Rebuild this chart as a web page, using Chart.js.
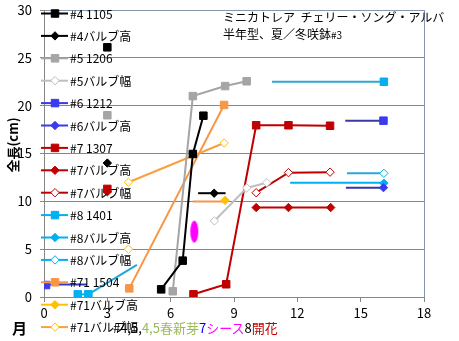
<!DOCTYPE html>
<html>
<head>
<meta charset="utf-8">
<script src="https://cdn.jsdelivr.net/npm/chart.js@4.4.1/dist/chart.umd.min.js"></script>
<style>
  body { margin: 0; background: #fff; }
  #wrap { position: relative; width: 459px; height: 341px; font-family: "Noto Sans CJK JP", sans-serif; color: #000; }
  .note { position: absolute; white-space: nowrap; }
</style>
</head>
<body>
<div id="wrap">
  <canvas id="chart" width="459" height="341"></canvas>
  <div class="note" style="left:223px; top:8px; font-size:12px; line-height:17px;">ミニカトレア&nbsp; チェリー・ソング・アルバ<br>半年型、夏／冬咲鉢<span style="font-size:10px">#3</span></div>
  <div class="note" style="left:12px; top:145px; font-size:13px; font-weight:bold; transform:translate(-50%,-50%) rotate(-90deg);">全長(cm)</div>
  <div class="note" style="left:12px; top:317px; font-size:15px; font-weight:bold;">月</div>
  <div class="note" style="left:113px; top:318px; font-size:13px;"><span>#4,5,</span><span style="color:#9BBB59">4,5春新芽</span><span style="color:#0000FF">7</span><span style="color:#FF00FF">シース</span><span>8</span><span style="color:#C00000">開花</span></div>
</div>
<script>
// months on x, length (cm) on y; null = gap in the line
const x4a = [3.0, 4.5, 5.55, 6.57, 7.05, 7.55];
const y4a = [26.1, null, 0.8, 3.8, 14.95, 18.95];
const x4b = [3.0, 5.5, 8.06];
const y4b = [14.0, null, 10.85];
const x5a = [3.0, 4.5, 6.1, 7.05, 8.58, 9.6];
const y5a = [19.0, null, 0.6, 21.0, 22.05, 22.55];
const x5w = [8.07, 9.6, 10.55];
const y5w = [7.95, 11.4, 11.95];
const x6a = [0.1, 8.0, 16.08];
const y6a = [1.25, null, 18.43];
const x6b = [16.08];
const y6b = [11.43];
const x7a = [3.0, 5.0, 7.08, 8.63, 10.05, 11.58, 13.55];
const y7a = [11.3, null, 0.28, 1.33, 17.95, 17.95, 17.9];
const x7b = [3.0, 6.0, 10.05, 11.58, 13.58];
const y7b = [11.0, null, 9.35, 9.35, 9.35];
const x7w = [10.05, 11.58, 13.55];
const y7w = [10.9, 13.0, 13.05];
const x8a = [1.6, 2.1, 9.0, 16.1];
const y8a = [0.28, 0.28, null, 22.5];
const x8b = [16.1];
const y8b = [11.9];
const x8w = [16.1];
const y8w = [12.93];
const x71a = [4.04, 8.53];
const y71a = [0.9, 20.07];
const x71b = [8.58];
const y71b = [10.1];
const x71w = [4.0, 4.0, 4.0, 8.53];
const y71w = [5.0, null, 12.0, 16.1];

// horizontal "period" bars without markers
const spanX0 = [7.3, 7.05, 2.1, 0.0, 10.8, 14.27, 14.35, 11.66, 14.3];
const spanY0 = [10.85, 9.98, 0.28, 1.3, 22.5, 18.43, 12.93, 11.95, 11.43];
const spanX1 = [8.6, 8.58, 4.4, 2.03, 16.1, 16.08, 16.1, 16.1, 16.08];
const spanY1 = [10.85, 9.98, 3.35, 1.3, 22.5, 18.43, 12.93, 11.95, 11.43];
const spanColors = ['#000000', '#F79646', '#1FA8DC', '#3535C8', '#2AA9D2', '#3B3BA6', '#2EA6D6', '#00B0F0', '#3535A8'];

// シース marker
const sheathX = [7.12];
const sheathY = [6.83];

const FONT = '"Noto Sans CJK JP", sans-serif';
const EDGE = '#8596AE';
const GRID = '#868686';

let row = 0;
function series(label, xs, ys, color, style, open, lineColor) {
  return {
    label,
    legendRow: row++,
    data: xs.map((x, i) => ({ x, y: ys[i] })),
    borderColor: lineColor || color,
    backgroundColor: color,
    borderWidth: 2,
    pointStyle: style,
    pointRadius: style === 'rect' ? 5.3 : 4.2,
    pointHoverRadius: style === 'rect' ? 5.3 : 4.2,
    pointBackgroundColor: open ? '#ffffff' : color,
    pointBorderColor: color,
    pointBorderWidth: 1,
    markerColor: color,
    open: !!open,
    spanGaps: false,
    tension: 0,
    order: 1,
  };
}

const datasets = [
  series('#4 1105', x4a, y4a, '#000000', 'rect'),
  series('#4バルブ高', x4b, y4b, '#000000', 'rectRot'),
  series('#5 1206', x5a, y5a, '#A5A5A5', 'rect'),
  series('#5バルブ幅', x5w, y5w, '#BFBFBF', 'rectRot', true),
  series('#6 1212', x6a, y6a, '#3A3AEE', 'rect'),
  series('#6バルブ高', x6b, y6b, '#3A3AEE', 'rectRot'),
  series('#7 1307', x7a, y7a, '#C00000', 'rect'),
  series('#7バルブ高', x7b, y7b, '#C00000', 'rectRot'),
  series('#7バルブ幅', x7w, y7w, '#C00000', 'rectRot', true),
  series('#8 1401', x8a, y8a, '#00B0F0', 'rect'),
  series('#8バルブ高', x8b, y8b, '#00B0F0', 'rectRot'),
  series('#8バルブ幅', x8w, y8w, '#00B0F0', 'rectRot', true),
  series('#71 1504', x71a, y71a, '#F79646', 'rect'),
  series('#71バルブ高', x71b, y71b, '#FFC000', 'rectRot'),
  series('#71バルブ幅', x71w, y71w, '#FFC000', 'rectRot', true, '#F9A040'),
];

spanX0.forEach((x0, i) => {
  datasets.push({
    data: [{ x: x0, y: spanY0[i] }, { x: spanX1[i], y: spanY1[i] }],
    borderColor: spanColors[i],
    borderWidth: 2,
    pointRadius: 0,
    pointHoverRadius: 0,
    order: 2,
  });
});

const ell = document.createElement('canvas');
ell.width = 10;
ell.height = 24;
const ec = ell.getContext('2d');
ec.fillStyle = '#FF00FF';
ec.beginPath();
ec.ellipse(5, 12, 4, 11, 0, 0, Math.PI * 2);
ec.fill();

datasets.push({
  data: sheathX.map((x, i) => ({ x, y: sheathY[i] })),
  showLine: false,
  pointStyle: ell,
  pointRadius: 5,
  order: 0,
});

function marker(ctx, style, x, y, r, fill, stroke) {
  ctx.beginPath();
  if (style === 'rect') {
    const s = r * Math.SQRT1_2;
    ctx.rect(x - s, y - s, 2 * s, 2 * s);
  } else {
    ctx.moveTo(x, y - r);
    ctx.lineTo(x + r, y);
    ctx.lineTo(x, y + r);
    ctx.lineTo(x - r, y);
    ctx.closePath();
  }
  ctx.fillStyle = fill;
  ctx.fill();
  ctx.lineWidth = 1;
  ctx.strokeStyle = stroke;
  ctx.stroke();
}

// Excel-style legend laid over the left part of the plot
const overlayLegend = {
  id: 'overlayLegend',
  afterDraw(chart) {
    const ctx = chart.ctx;
    ctx.save();
    ctx.font = '12px ' + FONT;
    ctx.textBaseline = 'middle';
    chart.data.datasets.forEach(ds => {
      if (ds.legendRow === undefined) return;
      const y = 13.5 + ds.legendRow * 22.4;
      ctx.beginPath();
      ctx.moveTo(41, y);
      ctx.lineTo(68, y);
      ctx.lineWidth = 2;
      ctx.strokeStyle = ds.borderColor;
      ctx.stroke();
      marker(ctx, ds.pointStyle, 55, y, ds.pointRadius, ds.open ? '#ffffff' : ds.markerColor, ds.markerColor);
      ctx.fillStyle = '#000';
      ctx.fillText(ds.label, 70, y + 0.5);
    });
    ctx.restore();
  }
};

new Chart(document.getElementById('chart').getContext('2d'), {
  type: 'line',
  data: { datasets },
  plugins: [overlayLegend],
  options: {
    responsive: false,
    animation: false,
    devicePixelRatio: 1,
    layout: { padding: { top: 10, right: 35, left: 0, bottom: 0 } },
    plugins: { legend: { display: false }, tooltip: { enabled: false } },
    scales: {
      x: {
        type: 'linear',
        min: 0,
        max: 18,
        ticks: { stepSize: 3, autoSkip: false, maxRotation: 0, padding: 3, color: '#000', font: { size: 13, family: FONT } },
        grid: {
          color: c => (c.tick && c.tick.value === 18 ? EDGE : 'rgba(0,0,0,0)'),
          tickColor: GRID,
          tickLength: 5,
        },
        border: { color: GRID },
        afterFit: s => { s.height = 44; s.paddingRight = 0; },
      },
      y: {
        min: 0,
        max: 30,
        ticks: { stepSize: 5, padding: 8, color: '#000', font: { size: 13, family: FONT } },
        grid: {
          color: c => (c.tick && c.tick.value === 30 ? EDGE : GRID),
          tickColor: GRID,
          tickLength: 4,
        },
        border: { color: GRID },
        afterFit: s => { s.width = 44; s.paddingTop = 0; s.paddingBottom = 0; },
      },
    },
  },
});
</script>
</body>
</html>
